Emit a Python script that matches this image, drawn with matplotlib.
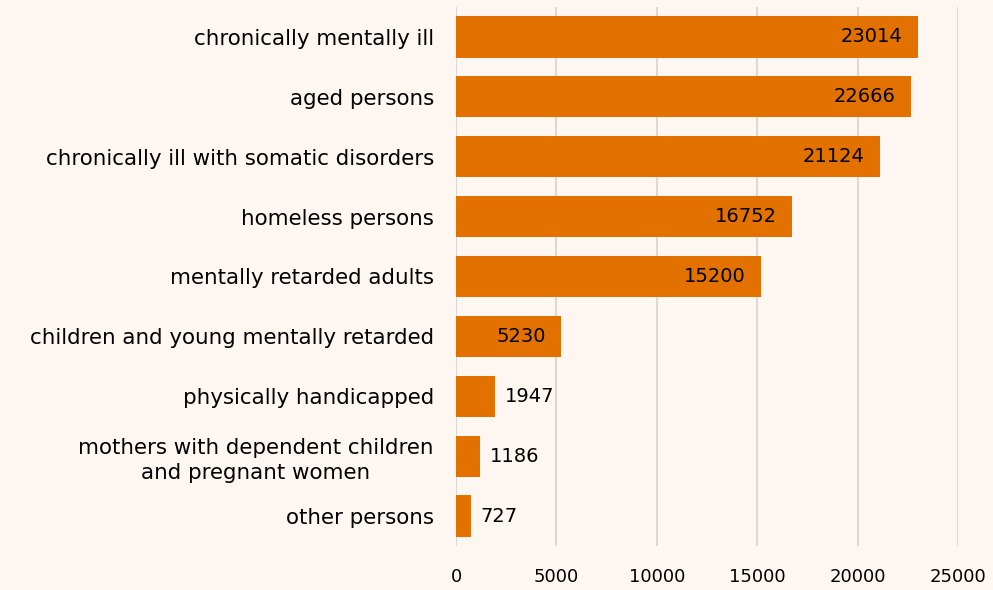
import matplotlib.pyplot as plt

categories = [
    "chronically mentally ill",
    "aged persons",
    "chronically ill with somatic disorders",
    "homeless persons",
    "mentally retarded adults",
    "children and young mentally retarded",
    "physically handicapped",
    "mothers with dependent children\nand pregnant women",
    "other persons",
]
values = [23014, 22666, 21124, 16752, 15200, 5230, 1947, 1186, 727]
xticks = [0, 5000, 10000, 15000, 20000, 25000]

bg = "#FEF6F0"
bar_color = "#E27100"

fig = plt.figure(figsize=(9.93, 5.90), dpi=100, facecolor=bg)
ax = fig.add_axes([456 / 993, 1 - 546 / 590, (958 - 456) / 993, (546 - 7) / 590])
ax.set_facecolor(bg)

pos = list(range(len(values)))
ax.barh(pos, values, height=0.69, color=bar_color, zorder=2)
ax.set_ylim(len(values) - 0.5, -0.5)
ax.set_xlim(0, 25000)
ax.set_xticks(xticks)
ax.set_yticks(pos)
ax.set_yticklabels(categories, fontsize=15.4, linespacing=1.3)
for lab in ax.get_yticklabels():
    lab.set_horizontalalignment("right")
    lab.set_multialignment("center")
ax.tick_params(axis="y", length=0, pad=16)
ax.tick_params(axis="x", length=0, pad=16, labelsize=13)
ax.grid(axis="x", color="#D9D9D9", linewidth=1.5, zorder=0)
for s in ax.spines.values():
    s.set_visible(False)

for p, v in zip(pos, values):
    if v > 4000:
        ax.annotate(str(v), (v, p), xytext=(-11, 0), textcoords="offset points",
                    ha="right", va="center", fontsize=14, zorder=3)
    else:
        ax.annotate(str(v), (v, p), xytext=(7, 0), textcoords="offset points",
                    ha="left", va="center", fontsize=14, zorder=3)

fig.savefig("out.png", dpi=100, facecolor=bg)
